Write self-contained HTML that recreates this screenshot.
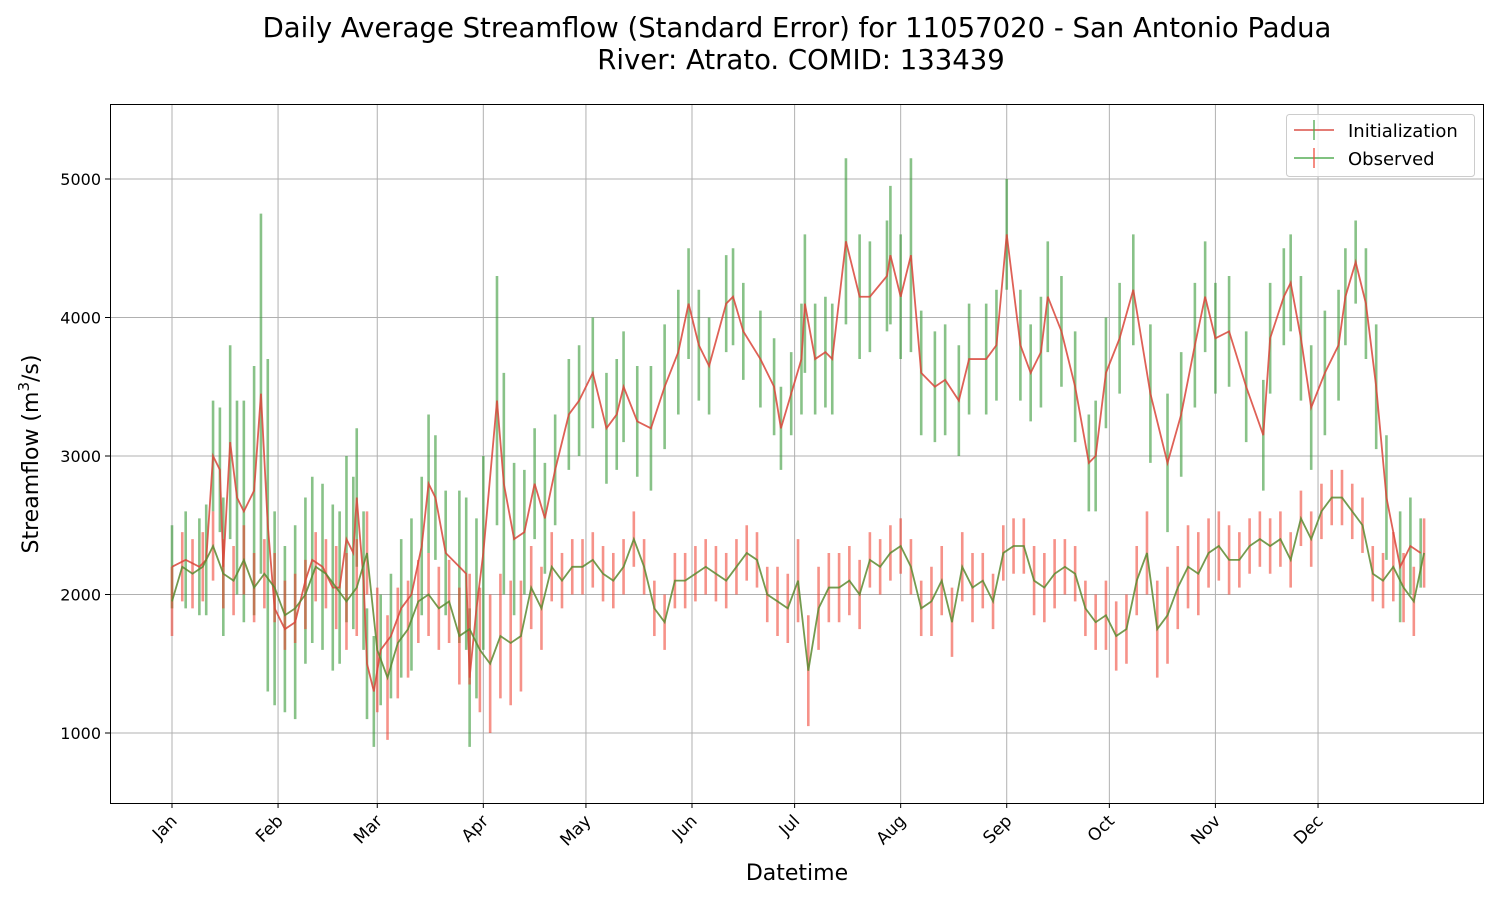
<!DOCTYPE html>
<html><head><meta charset="utf-8"><style>
body{margin:0;background:#fff;font-family:"Liberation Sans","DejaVu Sans",sans-serif;}
</style></head><body>
<svg id="chart" width="1500" height="900" xmlns="http://www.w3.org/2000/svg" font-family="'DejaVu Sans','Liberation Sans',sans-serif">
<rect width="1500" height="900" fill="#fff"/>
<text x="797" y="37" text-anchor="middle" font-size="27.5">Daily Average Streamflow (Standard Error) for 11057020 - San Antonio Padua</text>
<text x="801" y="69" text-anchor="middle" font-size="27.5">River: Atrato. COMID: 133439</text>
<g id="grid"></g>
<g id="marks"></g>
<rect x="110.5" y="104.5" width="1373" height="699" fill="none" stroke="#000" stroke-width="1"/>
<g id="axes"></g>
<text x="797" y="880" text-anchor="middle" font-size="22">Datetime</text>
<text transform="translate(38,454) rotate(-90)" text-anchor="middle" font-size="22">Streamflow (m<tspan dy="-9" font-size="15">3</tspan><tspan dy="9">/s)</tspan></text>
<g>
<rect x="1286.5" y="114.5" width="188" height="62" rx="3" fill="#fff" fill-opacity="0.8" stroke="#ccc"/>
<g>
<line x1="1294" y1="130" x2="1334" y2="130" stroke="#d9453a" stroke-width="1.8" opacity="0.8"/>
<line x1="1314" y1="120" x2="1314" y2="140" stroke="#4aa84a" stroke-width="1.8" opacity="0.7"/>
<text x="1348" y="137" font-size="18">Initialization</text></g>
<g>
<line x1="1294" y1="158" x2="1334" y2="158" stroke="#4aa84a" stroke-width="1.8" opacity="0.8"/>
<line x1="1314" y1="148" x2="1314" y2="168" stroke="#f04a3a" stroke-width="1.8" opacity="0.7"/>
<text x="1348" y="165" font-size="18">Observed</text></g>
</g>
</svg>
<script>
const monthLabels=["Jan","Feb","Mar","Apr","May","Jun","Jul","Aug","Sep","Oct","Nov","Dec"];
const monthStartDays=[0,31,60,91,121,152,182,213,244,274,305,335];
const yTicks=[1000,2000,3000,4000,5000];
const initDays=[0,4,8,10,12,14,15,17,19,21,24,26,28,30,33,36,39,41,44,47,49,51,53,54,56,57,59,61,64,67,70,73,75,77,80,84,86,87,89,91,95,97,100,103,106,109,112,116,119,123,127,130,132,136,140,144,148,151,154,157,162,164,167,172,176,178,181,184,185,188,191,193,197,201,204,209,210,213,216,219,223,226,230,233,238,241,244,248,251,254,256,260,264,268,270,273,277,281,286,291,295,299,302,305,309,314,319,321,325,327,330,333,337,341,343,346,349,352,355,359,362,365];
const initVals=[2200,2250,2200,2250,3000,2900,2200,3100,2700,2600,2750,3450,2500,1900,1750,1800,2100,2250,2200,2050,2050,2400,2300,2700,2100,1500,1300,1600,1700,1900,2000,2350,2800,2700,2300,2200,2150,1400,1900,2300,3400,2800,2400,2450,2800,2550,2900,3300,3400,3600,3200,3300,3500,3250,3200,3500,3750,4100,3800,3650,4100,4150,3900,3700,3500,3200,3450,3700,4100,3700,3750,3700,4550,4150,4150,4300,4450,4150,4450,3600,3500,3550,3400,3700,3700,3800,4600,3800,3600,3750,4150,3900,3500,2950,3000,3600,3850,4200,3450,2950,3300,3800,4150,3850,3900,3500,3150,3850,4150,4250,3850,3350,3600,3800,4150,4400,4100,3500,2700,2200,2350,2300];
const initErr=[300,350,350,400,400,450,500,700,700,800,900,1300,1200,700,600,700,600,600,600,600,550,600,550,500,500,400,400,400,450,500,550,500,500,450,450,550,550,500,650,700,900,800,550,450,400,400,400,400,400,400,400,400,400,400,450,450,450,400,400,350,350,350,350,350,350,300,300,400,500,400,400,400,600,450,400,400,500,450,700,450,400,400,400,400,400,400,400,400,350,400,400,400,400,350,400,400,400,400,500,500,450,450,400,400,400,400,400,400,350,350,450,450,450,400,350,300,400,450,450,400,350,250];
const obsVals=[1950,2200,2150,2200,2350,2150,2100,2250,2050,2150,2050,1850,1900,2000,2200,2150,2050,1950,2050,2300,1600,1400,1650,1750,1950,2000,1900,1950,1700,1750,1600,1500,1700,1650,1700,2050,1900,2200,2100,2200,2200,2250,2150,2100,2200,2400,2200,1900,1800,2100,2100,2150,2200,2150,2100,2200,2300,2250,2000,1950,1900,2100,1450,1900,2050,2050,2100,2000,2250,2200,2300,2350,2200,1900,1950,2100,1800,2200,2050,2100,1950,2300,2350,2350,2100,2050,2150,2200,2150,1900,1800,1850,1700,1750,2100,2300,1750,1850,2050,2200,2150,2300,2350,2250,2250,2350,2400,2350,2400,2250,2550,2400,2600,2700,2700,2600,2500,2150,2100,2200,2050,1950,2300];
const obsErr=[250,250,250,250,250,250,250,250,250,250,250,250,250,250,250,250,300,350,350,300,450,450,400,350,300,300,300,300,350,400,450,500,450,450,400,300,300,250,200,200,200,200,200,200,200,200,200,200,200,200,200,200,200,200,200,200,200,200,200,250,250,300,400,300,250,250,250,250,200,200,200,200,200,200,250,250,250,250,250,200,200,200,200,200,250,250,250,200,200,200,200,250,250,250,250,300,350,350,300,300,300,250,250,250,200,200,200,200,200,200,200,200,200,200,200,200,200,200,200,250,250,250,250];
const NS="http://www.w3.org/2000/svg";
const X=d=>172+d*3.421;
const Y=v=>733-(v-1000)*0.1385;
function mk(tag,attrs,parent){const e=document.createElementNS(NS,tag);for(const k in attrs)e.setAttribute(k,attrs[k]);parent.appendChild(e);return e;}
const grid=document.getElementById('grid'),marks=document.getElementById('marks'),axes=document.getElementById('axes');
monthStartDays.forEach((d,i)=>{
  const x=X(d);
  const g=mk('line',{x1:x,y1:104,x2:x,y2:803,stroke:'#b0b0b0','stroke-width':1},grid);
  
  
  mk('line',{x1:x,y1:803,x2:x,y2:808,stroke:'#000'},axes);
  const t=mk('text',{x:x+6,y:822,'font-size':17,'text-anchor':'end',transform:`rotate(-45 ${x+6} 822)`},axes);
  t.textContent=monthLabels[i];
  
  
});
yTicks.forEach(v=>{
  const y=Y(v);
  const g=mk('line',{x1:110,y1:y,x2:1483,y2:y,stroke:'#b0b0b0','stroke-width':1},grid);
  
  
  mk('line',{x1:105,y1:y,x2:110,y2:y,stroke:'#000'},axes);
  const t=mk('text',{x:101,y:y+6,'font-size':16,'text-anchor':'end'},axes);
  t.textContent=v;
  
  
});
initDays.forEach((d,i)=>{
  const b=mk('line',{x1:X(d),x2:X(d),y1:Y(initVals[i]-initErr[i]),y2:Y(initVals[i]+initErr[i]),stroke:'#3a9a3a','stroke-width':2.6,opacity:0.6},marks);
  
  
});
obsVals.forEach((v,i)=>{
  const d=i*3;
  const b=mk('line',{x1:X(d),x2:X(d),y1:Y(v-obsErr[i]),y2:Y(v+obsErr[i]),stroke:'#f03a2a','stroke-width':2.6,opacity:0.55},marks);
  
  
});
const ip=mk('polyline',{points:initDays.map((d,i)=>X(d)+','+Y(initVals[i])).join(' '),fill:'none',stroke:'#d9453a','stroke-width':1.8,opacity:0.85},marks);


const op=mk('polyline',{points:obsVals.map((v,i)=>X(i*3)+','+Y(v)).join(' '),fill:'none',stroke:'#5a8a30','stroke-width':1.8,opacity:0.85},marks);


</script>
</body></html>
